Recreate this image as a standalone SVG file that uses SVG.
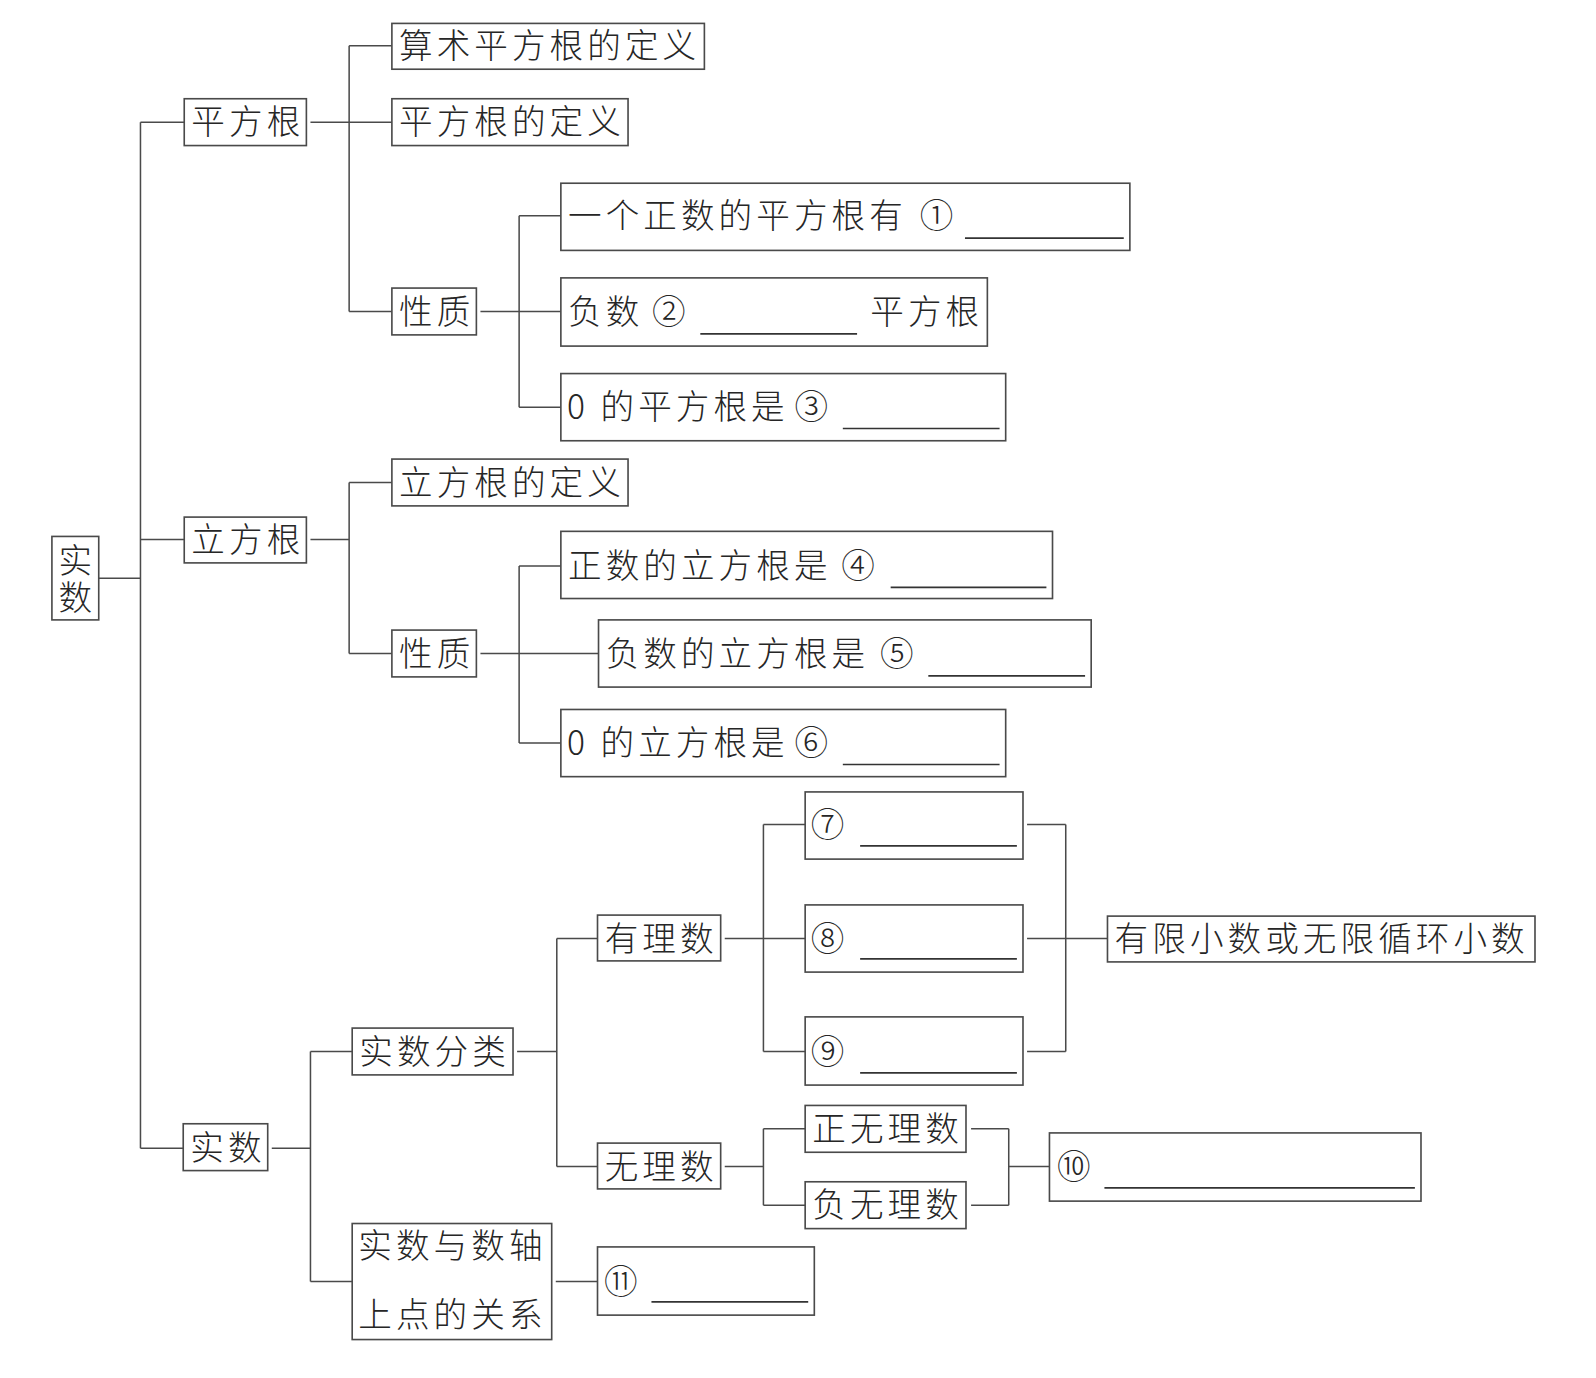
<svg xmlns="http://www.w3.org/2000/svg" width="1596" height="1378" viewBox="0 0 1596 1378">
<style>
.box{fill:#fff;stroke:#4a4a4a;stroke-width:1.6}
.ln{fill:none;stroke:#4a4a4a;stroke-width:1.5}
.ul{fill:none;stroke:#333;stroke-width:1.6}
.t{font-family:"Noto Sans CJK SC","Noto Sans CJK JP",sans-serif;font-size:33px;font-weight:300;fill:#262626;letter-spacing:4px}
.c{font-family:"Noto Sans CJK SC","Noto Sans CJK JP",sans-serif;font-size:33px;font-weight:300;fill:#262626;text-anchor:middle}
.v{writing-mode:vertical-rl;letter-spacing:3px}
</style>
<rect width="1596" height="1378" fill="#fff"/>
<g transform="scale(1.0179)">
<g id="connectors">
<path class="ln" d="M97,568 H138 M138,120 V1128 M138,120 H181 M138,530 H181 M138,1128 H180"/>
<path class="ln" d="M305,120 H385 M343,45 V306 M343,45 H385 M343,306 H385"/>
<path class="ln" d="M472,306 H551 M510,212 V400 M510,212 H551 M510,400 H551"/>
<path class="ln" d="M305,530 H343 M343,474 V642 M343,474 H385 M343,642 H385"/>
<path class="ln" d="M472,642 H588 M510,556 V730 M510,556 H551 M510,730 H551"/>
<path class="ln" d="M267,1128 H305 M305,1033 V1259 M305,1033 H346 M305,1259 H346"/>
<path class="ln" d="M508,1033 H547 M547,922 V1146 M547,922 H587 M547,1146 H587"/>
<path class="ln" d="M712,922 H791 M750,810 V1033 M750,810 H791 M750,1033 H791"/>
<path class="ln" d="M1009,810 H1047 M1009,922 H1088 M1009,1033 H1047 M1047,810 V1033"/>
<path class="ln" d="M712,1146 H750 M750,1109 V1184 M750,1109 H791 M750,1184 H791"/>
<path class="ln" d="M954,1109 H991 M954,1184 H991 M991,1109 V1184 M991,1146 H1031"/>
<path class="ln" d="M546,1259 H587"/>
</g>
<g id="n-root"><rect class="box" x="51" y="527" width="46" height="82"/><text class="t v" x="74" y="534">实数</text></g>
<g id="n-pfg"><rect class="box" x="181" y="97" width="120" height="46"/><text class="t" x="188" y="132">平方根</text></g>
<g id="n-sspfg"><rect class="box" x="385" y="23" width="307" height="45"/><text class="t" x="392" y="57">算术平方根的定义</text></g>
<g id="n-pfgdy"><rect class="box" x="385" y="97" width="232" height="46"/><text class="t" x="392" y="132">平方根的定义</text></g>
<g id="n-xz1"><rect class="box" x="385" y="283" width="83" height="46"/><text class="t" x="392" y="318">性质</text></g>
<g id="n-p1"><rect class="box" x="551" y="180" width="559" height="66"/><text class="t" x="558" y="224">一个正数的平方根有</text><text class="c" x="920" y="224">①</text><path class="ul" d="M948,234 H1104"/></g>
<g id="n-p2"><rect class="box" x="551" y="273" width="419" height="67"/><text class="t" x="558" y="318">负数</text><text class="c" x="657" y="318">②</text><path class="ul" d="M688,328 H842"/><text class="t" x="855" y="318">平方根</text></g>
<g id="n-p3"><rect class="box" x="551" y="367" width="437" height="66"/><text class="t" x="557" y="412">0 的平方根是</text><text class="c" x="797" y="412">③</text><path class="ul" d="M828,421 H982"/></g>
<g id="n-lfg"><rect class="box" x="181" y="508" width="120" height="45"/><text class="t" x="188" y="542">立方根</text></g>
<g id="n-lfgdy"><rect class="box" x="385" y="451" width="232" height="46"/><text class="t" x="392" y="486">立方根的定义</text></g>
<g id="n-xz2"><rect class="box" x="385" y="619" width="83" height="46"/><text class="t" x="392" y="654">性质</text></g>
<g id="n-p4"><rect class="box" x="551" y="522" width="483" height="66"/><text class="t" x="558" y="568">正数的立方根是</text><text class="c" x="843" y="568">④</text><path class="ul" d="M875,577 H1028"/></g>
<g id="n-p5"><rect class="box" x="588" y="609" width="484" height="66"/><text class="t" x="595" y="654">负数的立方根是</text><text class="c" x="881" y="654">⑤</text><path class="ul" d="M912,664 H1066"/></g>
<g id="n-p6"><rect class="box" x="551" y="697" width="437" height="66"/><text class="t" x="557" y="742">0 的立方根是</text><text class="c" x="797" y="742">⑥</text><path class="ul" d="M828,751 H982"/></g>
<g id="n-ss"><rect class="box" x="180" y="1104" width="83" height="46"/><text class="t" x="187" y="1140">实数</text></g>
<g id="n-ssfl"><rect class="box" x="346" y="1010" width="158" height="46"/><text class="t" x="353" y="1045">实数分类</text></g>
<g id="n-ssys"><rect class="box" x="346" y="1202" width="196" height="114"/><text class="t" x="352" y="1236">实数与数轴</text><text class="t" x="352" y="1304">上点的关系</text></g>
<g id="n-p11"><rect class="box" x="587" y="1225" width="213" height="67"/><text class="c" x="610" y="1271">⑪</text><path class="ul" d="M640,1279 H794"/></g>
<g id="n-yls"><rect class="box" x="587" y="899" width="121" height="45"/><text class="t" x="594" y="934">有理数</text></g>
<g id="n-wls"><rect class="box" x="587" y="1123" width="121" height="45"/><text class="t" x="594" y="1158">无理数</text></g>
<g id="n-p7"><rect class="box" x="791" y="778" width="214" height="66"/><text class="c" x="813" y="822">⑦</text><path class="ul" d="M845,831 H999"/></g>
<g id="n-p8"><rect class="box" x="791" y="889" width="214" height="66"/><text class="c" x="813" y="934">⑧</text><path class="ul" d="M845,942 H999"/></g>
<g id="n-p9"><rect class="box" x="791" y="999" width="214" height="67"/><text class="c" x="813" y="1045">⑨</text><path class="ul" d="M845,1054 H999"/></g>
<g id="n-yxxs"><rect class="box" x="1088" y="900" width="420" height="45"/><text class="t" x="1095" y="934">有限小数或无限循环小数</text></g>
<g id="n-zwls"><rect class="box" x="791" y="1086" width="158" height="46"/><text class="t" x="798" y="1121">正无理数</text></g>
<g id="n-fwls"><rect class="box" x="791" y="1161" width="158" height="46"/><text class="t" x="798" y="1196">负无理数</text></g>
<g id="n-p10"><rect class="box" x="1031" y="1113" width="365" height="67"/><text class="c" x="1055" y="1158">⑩</text><path class="ul" d="M1085,1167 H1390"/></g>
</g>
</svg>
